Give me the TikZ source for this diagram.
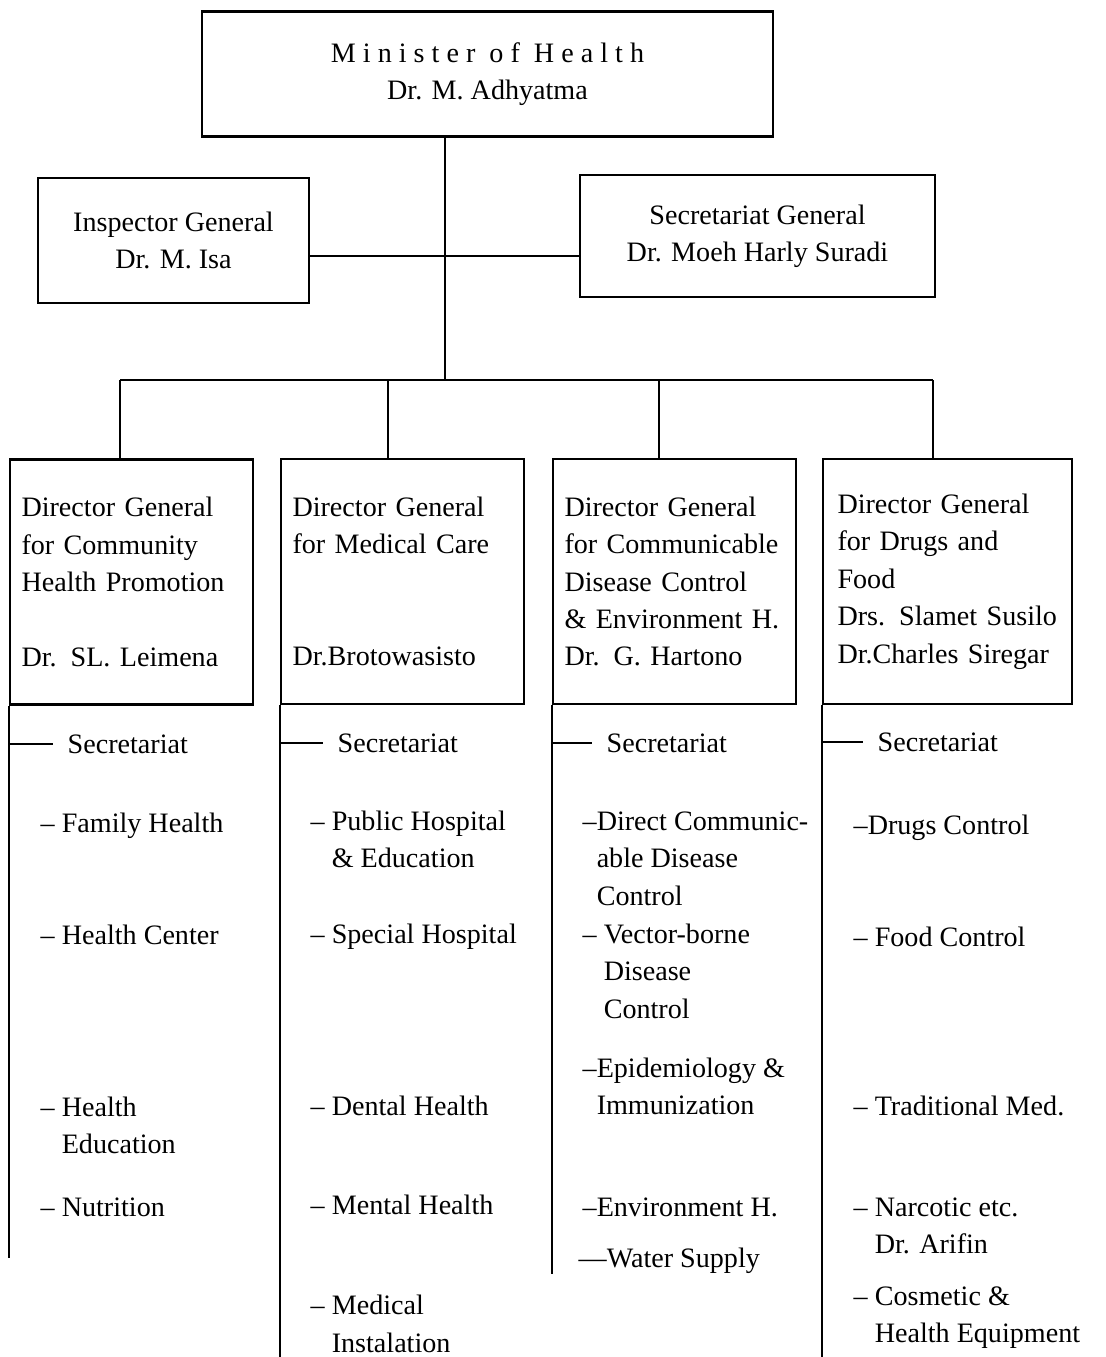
\documentclass[tikz,border=0pt]{standalone}
\usepackage{fontspec}
\setmainfont{Liberation Serif}
\begin{document}
\begin{tikzpicture}
[x=0.02cm, y=-0.02cm, line width=0.8pt,
 every node/.style={font=\fontsize{16}{21.3}\selectfont},
 box/.style={draw, line width=1.2pt, align=center},
 dgbox/.style={draw, line width=1.2pt, align=left, text width=4.4cm, inner xsep=0.23cm, minimum height=4.9cm},
 item/.style={anchor=base west, align=left, inner sep=0pt}]
\useasboundingbox (0,0) rectangle (1106,1357);
\node [box, minimum width=11.42cm, minimum height=2.5cm] (min) at (487.5,74) {{\addfontfeatures{LetterSpace=25}Minister of Health}\\Dr. M. Adhyatma};
\node [box, minimum width=5.42cm, minimum height=2.5cm] (insp) at (173.5,240.5) {Inspector General\\Dr. M. Isa};
\node [box, minimum width=7.1cm, minimum height=2.44cm] (secg) at (757.5,236) {Secretariat General\\Dr. Moeh Harly Suradi};
\coordinate (hub) at (445,380);
\coordinate (sline) at (445,256);
\draw (min.south -| hub) -- (hub);
\draw (insp.east |- sline) -- (secg.west |- sline);
\node [dgbox] (dg1) at (131.5,582) {Director General\\for Community\\Health Promotion\\[21.3pt]Dr. SL. Leimena};
\node [dgbox] (dg2) at (402.5,581.5) {Director General\\for Medical Care\\[42.6pt]Dr.Brotowasisto};
\node [dgbox] (dg3) at (674.5,581.5) {Director General\\for Communicable\\Disease Control\\\& Environment H.\\Dr. G. Hartono};
\node [dgbox, inner xsep=0.29cm] (dg4) at (947.5,581.5) {Director General\\for Drugs and\\Food\\Drs. Slamet Susilo\\Dr.Charles Siregar};
\coordinate (d1) at (120,380);
\coordinate (d2) at (388,380);
\coordinate (d3) at (659,380);
\coordinate (d4) at (933,380);
\draw (d1) -- (d4);
\foreach \i in {1,...,4}
  \draw (d\i) -- (d\i |- dg\i.north);
\coordinate (e1) at (10,1258);
\coordinate (e2) at (280,1357);
\coordinate (e3) at (552,1274);
\coordinate (e4) at (823,1357);
\node [item] (sec1) at (67,753) {Secretariat};
\node [item] (sec2) at (337,752) {Secretariat};
\node [item] (sec3) at (606,752) {Secretariat};
\node [item] (sec4) at (877,751) {Secretariat};
\foreach \i in {1,...,4}{
  \draw (dg\i.south west) -- (dg\i.south west |- e\i);
  \draw (dg\i.south west |- sec\i.west) -- ([xshift=-0.28cm]sec\i.west);
}
\node [item] (fam) at (40,832) {– Family Health};
\node [item] (hcen) at (40,944) {– Health Center};
\node [item] (hedu) at (40,1153.6) {– Health\\\hphantom{– }Education};
\node [item] (nutr) at (40,1216) {– Nutrition};
\node [item] (phos) at (310,867.6) {– Public Hospital\\\hphantom{– }\& Education};
\node [item] (shos) at (310,943) {– Special Hospital};
\node [item] (dent) at (310,1115) {– Dental Health};
\node [item] (ment) at (310,1214) {– Mental Health};
\node [item] (mins) at (310,1352) {– Medical\\\hphantom{– }Instalation};
\node [item] (dcd) at (582,905) {–Direct Communic-\\\hphantom{–}able Disease\\\hphantom{–}Control};
\node [item] (vbd) at (582,1018) {– Vector-borne\\\hphantom{– }Disease\\\hphantom{– }Control};
\node [item] (epid) at (582,1114.6) {–Epidemiology \&\\\hphantom{–}Immunization};
\node [item] (envh) at (582,1216) {–Environment H.};
\node [item] (wsup) at (578,1267) {—Water Supply};
\node [item] (drug) at (853,834) {–Drugs Control};
\node [item] (food) at (853,946) {– Food Control};
\node [item] (trad) at (853,1115) {– Traditional Med.};
\node [item] (narc) at (853,1253.6) {– Narcotic etc.\\\hphantom{– }Dr. Arifin};
\node [item] (cosm) at (853,1342.6) {– Cosmetic \&\\\hphantom{– }Health Equipment};
\end{tikzpicture}
\end{document}
